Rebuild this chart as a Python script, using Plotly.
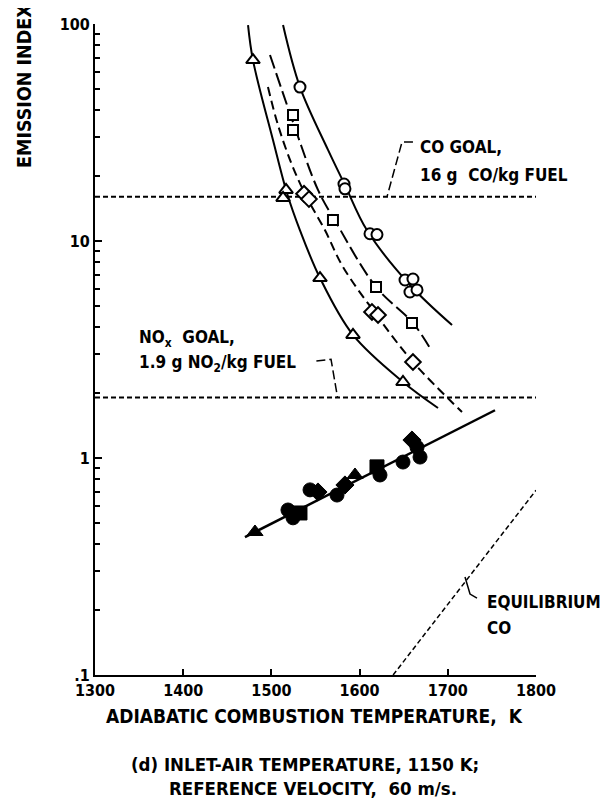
import math
import plotly.graph_objects as go

# ---------------- data ----------------
# Open-symbol CO data and faired curves
tri_curve_x = [1473.5, 1479.1, 1501.8, 1517.7, 1532.4, 1555.1, 1592.5, 1649.2, 1688.9]
tri_curve_y = [98.9, 68.2, 29.2, 16.6, 11.2, 6.75, 3.69, 2.24, 1.70]
tri_x = [1479.1, 1516.6, 1513.2, 1555.1, 1592.5, 1649.2]
tri_y = [68.2, 17.2, 15.8, 6.75, 3.69, 2.24]

dia_curve_x = [1496.1, 1507.5, 1523.4, 1540.4, 1560.8, 1581.2, 1617.5, 1660.5, 1716.1]
dia_curve_y = [51.2, 34.2, 22.4, 15.8, 11.2, 7.59, 4.66, 2.77, 1.63]
dia_x = [1537.0, 1542.6, 1614.0, 1620.9, 1660.5]
dia_y = [16.5, 15.6, 4.71, 4.56, 2.77]

sq_curve_x = [1498.4, 1524.5, 1552.8, 1573.2, 1618.6, 1660.5, 1681.0]
sq_curve_y = [72.0, 35.3, 17.2, 12.2, 6.14, 4.19, 3.15]
sq_x = [1524.5, 1524.5, 1569.8, 1618.6, 1659.4]
sq_y = [38.1, 32.5, 12.5, 6.14, 4.19]

circ_curve_x = [1513.2, 1532.4, 1564.2, 1583.4, 1608.4, 1657.1, 1704.8]
circ_curve_y = [98.9, 51.2, 26.3, 18.1, 11.2, 6.27, 4.10]
circ_x = [1532.4, 1582.3, 1583.4, 1611.8, 1619.7, 1651.5, 1660.5, 1657.1, 1665.1]
circ_y = [51.2, 18.3, 17.4, 10.8, 10.7, 6.61, 6.68, 5.82, 5.95]

# Filled-symbol NOx data and its line
nox_line_x = [1470.0, 1753.5]
nox_line_y = [0.432, 1.66]
nox_x = [1481.4, 1518.8, 1524.5, 1532.4, 1543.8, 1552.8, 1574.4, 1583.4, 1594.8,
         1619.7, 1623.1, 1649.2, 1659.4, 1665.1, 1668.5]
nox_y = [0.456, 0.576, 0.530, 0.558, 0.713, 0.697, 0.675, 0.751, 0.835,
         0.910, 0.835, 0.958, 1.21, 1.12, 1.01]
nox_sym = ["triangle-up", "circle", "circle", "square", "circle", "diamond", "circle",
           "diamond", "triangle-up", "square", "circle", "circle", "diamond", "circle", "circle"]

# Equilibrium CO line
eq_x = [1638.0, 1800.0]
eq_y = [0.1, 0.71]

# Goals
co_goal = 16.0
nox_goal = 1.9
x_range = [1300, 1800]

# Leader lines for the callouts
co_lead_x = [1660.5, 1648.1, 1631.1]
co_lead_y = [28.6, 28.6, 16.0]
nox_lead_x = [1551.0, 1567.6, 1575.0]
nox_lead_y = [2.80, 2.85, 1.9]
eq_lead_x = [1719.5, 1725.2, 1733.1]
eq_lead_y = [0.283, 0.236, 0.226]

# Callout texts: (text, x-left, y-value of line centre)
co_text = [("CO GOAL,", 1666.2, 27.1), ("16 g  CO/kg FUEL", 1666.2, 20.1)]
nox_text = [("NO<sub>x</sub>  GOAL,", 1347.6, 3.57), ("1.9 g NO<sub>2</sub>/kg FUEL", 1347.6, 2.74)]
eq_text = [("EQUILIBRIUM", 1742.2, 0.217), ("CO", 1742.2, 0.165)]

x_ticks = [1300, 1400, 1500, 1600, 1700, 1800]
x_ticktext = ["1300", "1400", "1500", "1600", "1700", "1800"]
y_ticks = [0.1, 1, 10, 100]
y_ticktext = [".1", "1", "10", "100"]
y_minor = [m * d for d in (0.1, 1, 10) for m in range(2, 10)]

# ---------------- figure ----------------
FONT = "Liberation Sans Narrow, DejaVu Sans Condensed, Arial Narrow, sans-serif"
K = "black"

fig = go.Figure()

def curve(x, y, dash):
    fig.add_trace(go.Scatter(x=x, y=y, mode="lines",
                             line=dict(color=K, width=2, dash=dash, shape="spline", smoothing=1.0),
                             hoverinfo="skip", showlegend=False))

def pts(x, y, sym, size=10, fill="white"):
    fig.add_trace(go.Scatter(x=x, y=y, mode="markers",
                             marker=dict(symbol=sym, size=size, color=fill, line=dict(color=K, width=2)),
                             showlegend=False))

# goal lines
fig.add_trace(go.Scatter(x=x_range, y=[co_goal, co_goal], mode="lines",
                         line=dict(color=K, width=2, dash="5px,3px"), showlegend=False))
fig.add_trace(go.Scatter(x=x_range, y=[nox_goal, nox_goal], mode="lines",
                         line=dict(color=K, width=2, dash="5px,3px"), showlegend=False))
# equilibrium line
fig.add_trace(go.Scatter(x=eq_x, y=eq_y, mode="lines",
                         line=dict(color=K, width=1.5, dash="5px,3px"), showlegend=False))
# leaders
for lx, ly, dsh in [(co_lead_x, co_lead_y, "9px,4px"), (nox_lead_x, nox_lead_y, "9px,4px"),
                    (eq_lead_x, eq_lead_y, "solid")]:
    fig.add_trace(go.Scatter(x=lx, y=ly, mode="lines", line=dict(color=K, width=1.5, dash=dsh),
                             hoverinfo="skip", showlegend=False))

curve(tri_curve_x, tri_curve_y, "solid")
curve(dia_curve_x, dia_curve_y, "9px,5px")
curve(sq_curve_x, sq_curve_y, "14px,5px")
curve(circ_curve_x, circ_curve_y, "solid")

pts(tri_x, tri_y, "triangle-up", 12)
pts(dia_x, dia_y, "diamond", 12)
pts(sq_x, sq_y, "square", 10)
pts(circ_x, circ_y, "circle", 11)

# NOx line and filled data
fig.add_trace(go.Scatter(x=nox_line_x, y=nox_line_y, mode="lines", line=dict(color=K, width=2.5),
                         showlegend=False))
fig.add_trace(go.Scatter(x=nox_x, y=nox_y, mode="markers",
                         marker=dict(symbol=nox_sym, size=14, color=K, line=dict(color=K, width=1)),
                         showlegend=False))

# ---------------- layout ----------------
# The page body has an 8px margin; the figure is sized to sit inside it.
OFF = 8
W, H = 606, 795
L, R, T, B = 87, 78, 16, 128
pw, ph = W - L - R, H - T - B

def px(xp):   # page pixel -> paper x
    return (xp - OFF - L) / pw

def py(yp):   # page pixel -> paper y
    return (H - B - (yp - OFF)) / ph

tfont = dict(family=FONT, size=17, color=K, weight="bold")
big = dict(family=FONT, size=18.5, color=K, weight="bold")

ann = []
for txt, xv, yv in co_text + nox_text + eq_text:
    ann.append(dict(text=txt, x=xv, y=math.log10(yv), xref="x", yref="y", xanchor="left",
                    yanchor="middle", align="left", showarrow=False, font=tfont))
ann += [
    dict(text="EMISSION INDEX", textangle=-90, x=px(24), y=py(86), xref="paper", yref="paper",
         xanchor="center", yanchor="middle", showarrow=False,
         font=dict(family=FONT, size=19.5, color=K, weight="bold")),
    dict(text="ADIABATIC COMBUSTION TEMPERATURE,  K", x=px(314), y=py(716), xref="paper", yref="paper",
         xanchor="center", yanchor="middle", showarrow=False,
         font=dict(family=FONT, size=19, color=K, weight="bold")),
    dict(text="(d) INLET-AIR TEMPERATURE, 1150 K;", x=px(305), y=py(764), xref="paper", yref="paper",
         xanchor="center", yanchor="middle", showarrow=False, font=big),
    dict(text="REFERENCE VELOCITY,  60 m/s.", x=px(313), y=py(788), xref="paper", yref="paper",
         xanchor="center", yanchor="middle", showarrow=False, font=big),
]

fig.update_layout(
    width=W, height=H,
    margin=dict(l=L, r=R, t=T, b=B, autoexpand=False),
    paper_bgcolor="white", plot_bgcolor="white",
    showlegend=False,
    annotations=ann,
    xaxis=dict(range=x_range, tickmode="array", tickvals=x_ticks, ticktext=x_ticktext,
               showline=True, linecolor=K, linewidth=2, ticks="inside", ticklen=6, tickwidth=2,
               tickcolor=K, showgrid=False, zeroline=False,
               tickfont=dict(family=FONT, size=16, color=K, weight="bold")),
    yaxis=dict(type="log", range=[-1, 2], tickmode="array", tickvals=y_ticks, ticktext=y_ticktext,
               showline=True, linecolor=K, linewidth=2, ticks="inside", ticklen=7, tickwidth=2,
               tickcolor=K, showgrid=False, zeroline=False,
               minor=dict(tickmode="array", tickvals=y_minor, ticks="inside", ticklen=5, tickwidth=1.5,
                          tickcolor=K, showgrid=False),
               tickfont=dict(family=FONT, size=16, color=K, weight="bold")),
)

fig.write_html("out.html")
